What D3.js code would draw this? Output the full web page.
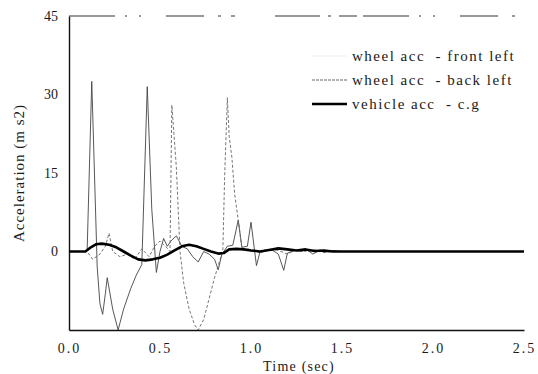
<!DOCTYPE html>
<html>
<head>
<meta charset="utf-8">
<script src="https://cdn.jsdelivr.net/npm/d3@7"></script>
<style>
  body { margin: 0; background: #fff; }
  svg text { font-family: 'Liberation Serif', 'Times New Roman', 'DejaVu Serif', serif !important; fill: #1a1a1a; }
</style>
</head>
<body>
<div id="chart"></div>
<script>
// [time (sec), acceleration (m/s2)]
const frontLeft = [
  [0, 0], [0.09, 0], [0.10, 0.5], [0.125, 32.5], [0.155, -3], [0.17, -10], [0.185, -12],
  [0.20, -8], [0.21, -5], [0.24, -11], [0.27, -15], [0.30, -11], [0.34, -7], [0.37, -4.5],
  [0.40, -2.5], [0.43, 31.5], [0.455, 8], [0.48, -4], [0.50, 0], [0.52, 2.5], [0.54, 1],
  [0.56, 2], [0.59, 3], [0.62, 1], [0.65, 0.5], [0.68, -1], [0.71, -2], [0.74, 0],
  [0.77, -0.5], [0.80, -1.5], [0.82, -3.5], [0.84, -0.5], [0.87, 1], [0.90, 1.2], [0.93, 6],
  [0.95, 0.8], [0.98, 1], [1.00, 5.6], [1.03, -2.7], [1.05, 0], [1.08, 0.3], [1.12, 0.2],
  [1.15, -0.5], [1.18, -3.6], [1.20, -0.3], [1.24, 0.2], [1.28, 0], [1.30, 0.5], [1.34, -0.5],
  [1.38, 0.3], [1.40, -0.2], [1.45, 0.2], [1.5, 0], [2.5, 0]
];
const backLeft = [
  [0, 0], [0.10, 0], [0.13, -1.5], [0.17, -0.5], [0.20, 1], [0.22, 3.5], [0.24, 0],
  [0.28, -1], [0.32, -0.5], [0.36, -1.5], [0.40, 0.5], [0.44, -1], [0.47, 1], [0.50, 2],
  [0.53, 1], [0.555, 0], [0.565, 28], [0.59, 16], [0.60, 8], [0.61, 0], [0.63, -6],
  [0.66, -11], [0.69, -14], [0.71, -15], [0.74, -13], [0.77, -9], [0.80, -5], [0.83, -1.5],
  [0.845, 0], [0.855, 14], [0.87, 29.4], [0.88, 22], [0.895, 18], [0.91, 11], [0.93, 6],
  [0.95, 0.5], [0.98, 0.5], [1.02, 0.2], [1.05, -0.3], [1.10, 0.5], [1.15, 0.2], [1.20, -0.5],
  [1.25, 0.4], [1.30, 0], [1.35, 0.3], [1.40, -0.2], [1.45, 0], [2.5, 0]
];
const vehicleCg = [
  [0, 0], [0.09, 0], [0.12, 0.8], [0.15, 1.4], [0.18, 1.5], [0.22, 1.3], [0.26, 0.8],
  [0.30, 0], [0.34, -0.8], [0.38, -1.5], [0.42, -1.7], [0.46, -1.5], [0.50, -1.2],
  [0.54, -0.6], [0.58, 0.2], [0.62, 1], [0.66, 1.3], [0.70, 1], [0.74, 0.5], [0.78, 0],
  [0.82, -0.4], [0.85, -0.3], [0.88, 0.4], [0.92, 0.5], [0.96, 0.4], [1.00, 0.2], [1.05, 0],
  [1.10, 0.3], [1.15, 0.6], [1.20, 0.4], [1.25, 0.2], [1.30, 0.4], [1.35, 0.1], [1.40, 0.2],
  [1.45, 0], [1.6, 0], [2.5, 0]
];
const seriesNames = ["wheel acc  - front left", "wheel acc  - back left", "vehicle acc  - c.g"];
const xTicks = [0, 0.5, 1.0, 1.5, 2.0, 2.5];
const yTicks = [0, 15, 30, 45];

const serif = "'Liberation Serif', 'Times New Roman', 'DejaVu Serif', serif";

const margin = {top: 16, right: 14, bottom: 44, left: 69},
width = 538 - margin.left - margin.right,
height = 374 - margin.top - margin.bottom;

const svgRoot = d3.select("#chart")
  .append("svg")
    .attr("width", 538)
    .attr("height", 374)
    .attr("font-family", serif);

const svg = svgRoot.append("g")
  .attr("transform", "translate(" + margin.left + "," + margin.top + ")");

const x = d3.scaleLinear().domain([0, 2.5]).range([0, width]);
const y = d3.scaleLinear().domain([-15, 45]).range([height, 0]);

svg.append("clipPath")
  .attr("id", "plot-clip")
  .append("rect")
    .attr("x", 0).attr("y", -2)
    .attr("width", width).attr("height", height + 2);

// axes: no tick marks, just labels
const xAxis = svg.append("g")
  .attr("transform", "translate(0," + height + ")")
  .call(d3.axisBottom(x).tickValues(xTicks).tickFormat(d3.format(".1f")).tickSize(0).tickPadding(13));
xAxis.attr("font-family", serif).attr("font-size", 14);
xAxis.select(".domain").attr("stroke", "#111").attr("stroke-width", 1.4);
xAxis.selectAll("text").attr("fill", "#1a1a1a").style("letter-spacing", "2px");

const yAxis = svg.append("g")
  .call(d3.axisLeft(y).tickValues(yTicks).tickSize(0).tickPadding(11));
yAxis.attr("font-family", serif).attr("font-size", 14);
yAxis.select(".domain").attr("stroke", "#111").attr("stroke-width", 1.4);
yAxis.selectAll("text").attr("fill", "#1a1a1a");

// broken top frame line (the scan lost pieces of it)
svg.append("line")
  .attr("x1", 0).attr("x2", width)
  .attr("y1", 0).attr("y2", 0)
  .attr("stroke", "#333")
  .attr("stroke-width", 1)
  .attr("stroke-dasharray", "46,10,2,12,2,25,38,14,3,10,4,40,45,8,3,8,18,6");

const line = d3.line()
  .x(function (d) { return x(d[0]); })
  .y(function (d) { return y(d[1]); });

const plot = svg.append("g").attr("clip-path", "url(#plot-clip)");

plot.append("path")
  .datum(frontLeft)
  .attr("d", line)
  .attr("fill", "none")
  .attr("stroke", "#444")
  .attr("stroke-width", 0.9);

plot.append("path")
  .datum(backLeft)
  .attr("d", line)
  .attr("fill", "none")
  .attr("stroke", "#666")
  .attr("stroke-width", 0.9)
  .attr("stroke-dasharray", "3,2");

plot.append("path")
  .datum(vehicleCg)
  .attr("d", line)
  .attr("fill", "none")
  .attr("stroke", "#000")
  .attr("stroke-width", 2.6)
  .attr("stroke-linejoin", "round");

// legend
const legendStyles = [
  {stroke: "#e4e4e4", width: 0.6, dash: null},
  {stroke: "#666", width: 1, dash: "3,1"},
  {stroke: "#000", width: 2.6, dash: null}
];
const legend = svgRoot.append("g").attr("transform", "translate(312,56)");
const legendItem = legend.selectAll("g")
  .data(seriesNames)
  .enter()
  .append("g")
    .attr("transform", function (d, i) { return "translate(0," + (i * 24) + ")"; });

legendItem.append("line")
  .attr("x1", 0).attr("x2", 35)
  .attr("y1", 0).attr("y2", 0)
  .attr("stroke", function (d, i) { return legendStyles[i].stroke; })
  .attr("stroke-width", function (d, i) { return legendStyles[i].width; })
  .attr("stroke-dasharray", function (d, i) { return legendStyles[i].dash; });

legendItem.append("text")
  .attr("x", 40)
  .attr("y", 4.5)
  .attr("xml:space", "preserve")
  .style("font-size", "15px")
  .style("letter-spacing", "1.5px")
  .text(function (d) { return d; });

// axis titles
svgRoot.append("text")
  .attr("transform", "translate(24," + (margin.top + 157) + ") rotate(-90)")
  .attr("text-anchor", "middle")
  .style("font-size", "15px")
  .style("letter-spacing", "1px")
  .text("Acceleration (m s2)");

svgRoot.append("text")
  .attr("x", 299)
  .attr("y", 371)
  .attr("text-anchor", "middle")
  .style("font-size", "14px")
  .style("letter-spacing", "1.2px")
  .text("Time (sec)");
</script>
</body>
</html>
